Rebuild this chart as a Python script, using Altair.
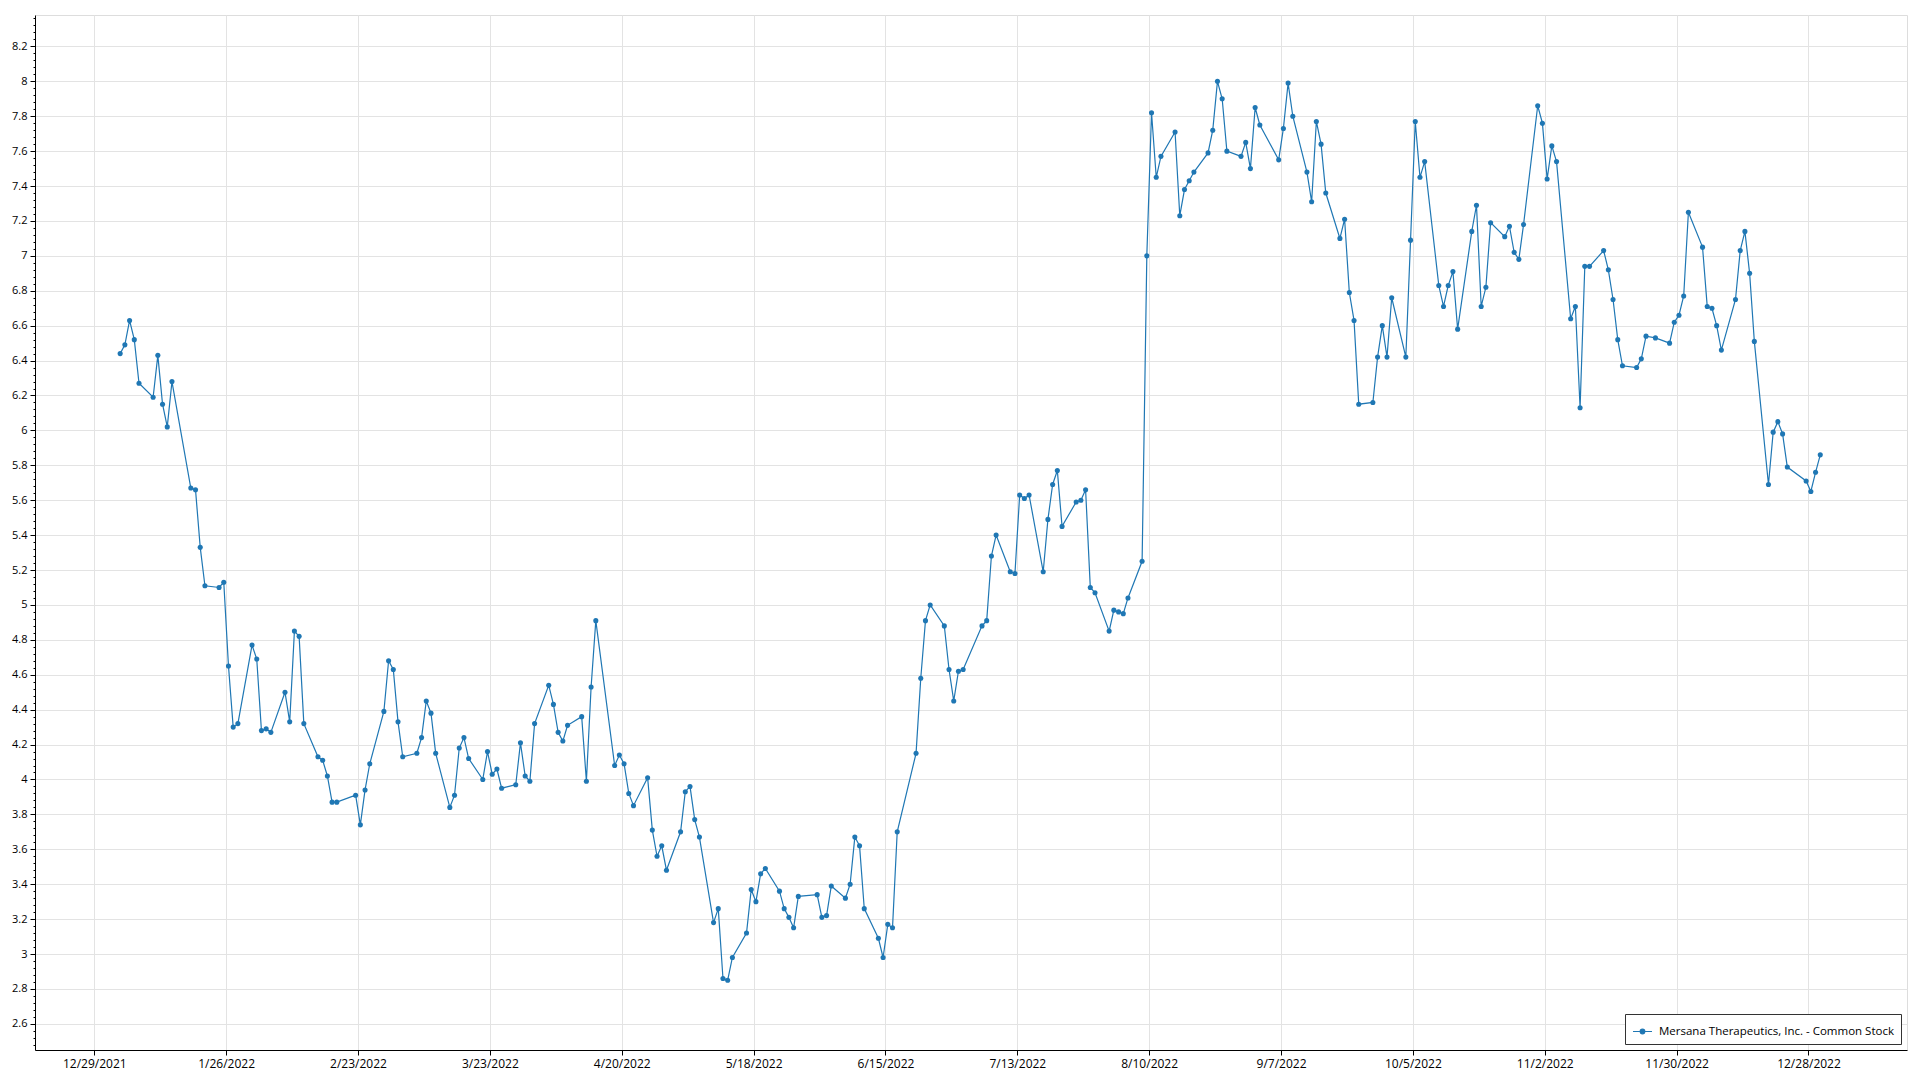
import altair as alt
import pandas as pd

series_name = "Mersana Therapeutics, Inc. - Common Stock"

dates = [
    "2022-01-03", "2022-01-04", "2022-01-05", "2022-01-06", "2022-01-07", "2022-01-10", "2022-01-11", "2022-01-12",
    "2022-01-13", "2022-01-14", "2022-01-18", "2022-01-19", "2022-01-20", "2022-01-21", "2022-01-24", "2022-01-25",
    "2022-01-26", "2022-01-27", "2022-01-28", "2022-01-31",
    "2022-02-01", "2022-02-02", "2022-02-03", "2022-02-04", "2022-02-07", "2022-02-08", "2022-02-09", "2022-02-10",
    "2022-02-11", "2022-02-14", "2022-02-15", "2022-02-16", "2022-02-17", "2022-02-18", "2022-02-22", "2022-02-23",
    "2022-02-24", "2022-02-25", "2022-02-28",
    "2022-03-01", "2022-03-02", "2022-03-03", "2022-03-04", "2022-03-07", "2022-03-08", "2022-03-09", "2022-03-10",
    "2022-03-11", "2022-03-14", "2022-03-15", "2022-03-16", "2022-03-17", "2022-03-18", "2022-03-21", "2022-03-22",
    "2022-03-23", "2022-03-24", "2022-03-25", "2022-03-28", "2022-03-29", "2022-03-30", "2022-03-31",
    "2022-04-01", "2022-04-04", "2022-04-05", "2022-04-06", "2022-04-07", "2022-04-08", "2022-04-11", "2022-04-12",
    "2022-04-13", "2022-04-14", "2022-04-18", "2022-04-19", "2022-04-20", "2022-04-21", "2022-04-22", "2022-04-25",
    "2022-04-26", "2022-04-27", "2022-04-28", "2022-04-29",
    "2022-05-02", "2022-05-03", "2022-05-04", "2022-05-05", "2022-05-06", "2022-05-09", "2022-05-10", "2022-05-11",
    "2022-05-12", "2022-05-13", "2022-05-16", "2022-05-17", "2022-05-18", "2022-05-19", "2022-05-20", "2022-05-23",
    "2022-05-24", "2022-05-25", "2022-05-26", "2022-05-27", "2022-05-31",
    "2022-06-01", "2022-06-02", "2022-06-03", "2022-06-06", "2022-06-07", "2022-06-08", "2022-06-09", "2022-06-10",
    "2022-06-13", "2022-06-14", "2022-06-15", "2022-06-16", "2022-06-17", "2022-06-21", "2022-06-22", "2022-06-23",
    "2022-06-24", "2022-06-27", "2022-06-28", "2022-06-29", "2022-06-30",
    "2022-07-01", "2022-07-05", "2022-07-06", "2022-07-07", "2022-07-08", "2022-07-11", "2022-07-12", "2022-07-13",
    "2022-07-14", "2022-07-15", "2022-07-18", "2022-07-19", "2022-07-20", "2022-07-21", "2022-07-22", "2022-07-25",
    "2022-07-26", "2022-07-27", "2022-07-28", "2022-07-29",
    "2022-08-01", "2022-08-02", "2022-08-03", "2022-08-04", "2022-08-05", "2022-08-08", "2022-08-09", "2022-08-10",
    "2022-08-11", "2022-08-12", "2022-08-15", "2022-08-16", "2022-08-17", "2022-08-18", "2022-08-19", "2022-08-22",
    "2022-08-23", "2022-08-24", "2022-08-25", "2022-08-26", "2022-08-29", "2022-08-30", "2022-08-31",
    "2022-09-01", "2022-09-02", "2022-09-06", "2022-09-07", "2022-09-08", "2022-09-09", "2022-09-12", "2022-09-13",
    "2022-09-14", "2022-09-15", "2022-09-16", "2022-09-19", "2022-09-20", "2022-09-21", "2022-09-22", "2022-09-23",
    "2022-09-26", "2022-09-27", "2022-09-28", "2022-09-29", "2022-09-30",
    "2022-10-03", "2022-10-04", "2022-10-05", "2022-10-06", "2022-10-07", "2022-10-10", "2022-10-11", "2022-10-12",
    "2022-10-13", "2022-10-14", "2022-10-17", "2022-10-18", "2022-10-19", "2022-10-20", "2022-10-21", "2022-10-24",
    "2022-10-25", "2022-10-26", "2022-10-27", "2022-10-28", "2022-10-31",
    "2022-11-01", "2022-11-02", "2022-11-03", "2022-11-04", "2022-11-07", "2022-11-08", "2022-11-09", "2022-11-10",
    "2022-11-11", "2022-11-14", "2022-11-15", "2022-11-16", "2022-11-17", "2022-11-18", "2022-11-21", "2022-11-22",
    "2022-11-23", "2022-11-25", "2022-11-28", "2022-11-29", "2022-11-30",
    "2022-12-01", "2022-12-02", "2022-12-05", "2022-12-06", "2022-12-07", "2022-12-08", "2022-12-09", "2022-12-12",
    "2022-12-13", "2022-12-14", "2022-12-15", "2022-12-16", "2022-12-19", "2022-12-20", "2022-12-21", "2022-12-22",
    "2022-12-23", "2022-12-27", "2022-12-28", "2022-12-29", "2022-12-30",
]

prices = [
    6.44, 6.49, 6.63, 6.52, 6.27, 6.19, 6.43, 6.15, 6.02, 6.28, 5.67, 5.66, 5.33, 5.11, 5.10, 5.13,
    4.65, 4.30, 4.32, 4.77,
    4.69, 4.28, 4.29, 4.27, 4.50, 4.33, 4.85, 4.82, 4.32, 4.13, 4.11, 4.02, 3.87, 3.87, 3.91, 3.74,
    3.94, 4.09, 4.39,
    4.68, 4.63, 4.33, 4.13, 4.15, 4.24, 4.45, 4.38, 4.15, 3.84, 3.91, 4.18, 4.24, 4.12, 4.00, 4.16,
    4.03, 4.06, 3.95, 3.97, 4.21, 4.02, 3.99,
    4.32, 4.54, 4.43, 4.27, 4.22, 4.31, 4.36, 3.99, 4.53, 4.91, 4.08, 4.14, 4.09, 3.92, 3.85, 4.01,
    3.71, 3.56, 3.62, 3.48,
    3.70, 3.93, 3.96, 3.77, 3.67, 3.18, 3.26, 2.86, 2.85, 2.98, 3.12, 3.37, 3.30, 3.46, 3.49, 3.36,
    3.26, 3.21, 3.15, 3.33, 3.34,
    3.21, 3.22, 3.39, 3.32, 3.40, 3.67, 3.62, 3.26, 3.09, 2.98, 3.17, 3.15, 3.70, 4.15, 4.58, 4.91,
    5.00, 4.88, 4.63, 4.45, 4.62,
    4.63, 4.88, 4.91, 5.28, 5.40, 5.19, 5.18, 5.63, 5.61, 5.63, 5.19, 5.49, 5.69, 5.77, 5.45, 5.59,
    5.60, 5.66, 5.10, 5.07,
    4.85, 4.97, 4.96, 4.95, 5.04, 5.25, 7.00, 7.82, 7.45, 7.57, 7.71, 7.23, 7.38, 7.43, 7.48, 7.59,
    7.72, 8.00, 7.90, 7.60, 7.57, 7.65, 7.50,
    7.85, 7.75, 7.55, 7.73, 7.99, 7.80, 7.48, 7.31, 7.77, 7.64, 7.36, 7.10, 7.21, 6.79, 6.63, 6.15,
    6.16, 6.42, 6.60, 6.42, 6.76,
    6.42, 7.09, 7.77, 7.45, 7.54, 6.83, 6.71, 6.83, 6.91, 6.58, 7.14, 7.29, 6.71, 6.82, 7.19, 7.11,
    7.17, 7.02, 6.98, 7.18, 7.86,
    7.76, 7.44, 7.63, 7.54, 6.64, 6.71, 6.13, 6.94, 6.94, 7.03, 6.92, 6.75, 6.52, 6.37, 6.36, 6.41,
    6.54, 6.53, 6.50, 6.62, 6.66,
    6.77, 7.25, 7.05, 6.71, 6.70, 6.60, 6.46, 6.75, 7.03, 7.14, 6.90, 6.51, 5.69, 5.99, 6.05, 5.98,
    5.79, 5.71, 5.65, 5.76, 5.86,
]

x_tick_dates = [
    "2021-12-29", "2022-01-26", "2022-02-23", "2022-03-23", "2022-04-20", "2022-05-18", "2022-06-15",
    "2022-07-13", "2022-08-10", "2022-09-07", "2022-10-05", "2022-11-02", "2022-11-30", "2022-12-28",
]
y_tick_values = [round(2.6 + 0.2 * i, 1) for i in range(29)]
y_minor_values = [round(2.48 + 0.04 * i, 2) for i in range(148)]


def ms(s):
    return int(pd.Timestamp(s, tz="UTC").value // 10**6)


x_domain = [ms("2021-12-16T10:00"), ms("2023-01-17T22:00")]
y_domain = [2.45, 8.38]

df = pd.DataFrame({"date": dates, "price": prices, "series": series_name})
minor_df = pd.DataFrame({"v": y_minor_values})

FONT = "Open Sans"
BLUE = "#1f77b4"
GRID = "#e3e3e3"

legend_symbol = "M-1,0L1,0M-0.24,0A0.24,0.24,0,1,0,0.24,0A0.24,0.24,0,1,0,-0.24,0Z"

x_scale = alt.Scale(type="utc", domain=x_domain, nice=False)

main = (
    alt.Chart(df)
    .transform_calculate(t="toDate(datum.date) + 43200000")
    .mark_line(strokeWidth=1.2, point=alt.OverlayMarkDef(filled=True, size=26))
    .encode(
        x=alt.X(
            "t:T",
            scale=x_scale,
            axis=alt.Axis(
                values=[ms(t) for t in x_tick_dates],
                labelExpr="utcFormat(datum.value, '%-m/%-d/%Y')",
                title=None,
                grid=True,
                gridColor=GRID,
                tickSize=5,
                tickColor="black",
                domainColor="black",
                labelPadding=3,
                labelFont=FONT,
                labelFontSize=12,
                labelColor="black",
                labelFlush=False,
            ),
        ),
        y=alt.Y(
            "price:Q",
            scale=alt.Scale(domain=y_domain, nice=False, zero=False),
            axis=alt.Axis(
                values=y_tick_values,
                format=".1~f",
                title=None,
                orient="left",
                grid=True,
                gridColor=GRID,
                tickSize=5,
                tickColor="black",
                domainColor="black",
                labelPadding=3,
                labelFont=FONT,
                labelFontSize=11,
                labelColor="black",
                labelFlush=False,
                minExtent=27,
                maxExtent=27,
            ),
        ),
        color=alt.Color(
            "series:N",
            scale=alt.Scale(range=[BLUE]),
            legend=alt.Legend(
                title=None,
                orient="bottom-right",
                offset=6,
                padding=7,
                strokeColor="#333333",
                fillColor="white",
                labelFont=FONT,
                labelFontSize=11.5,
                labelColor="black",
                labelLimit=0,
                symbolType=legend_symbol,
                symbolSize=360,
                symbolStrokeWidth=1.2,
                symbolFillColor=BLUE,
                symbolStrokeColor=BLUE,
                labelOffset=6,
            ),
        ),
    )
)

minor = (
    alt.Chart(minor_df)
    .mark_point(opacity=0)
    .encode(
        y=alt.Y(
            "v:Q",
            scale=alt.Scale(domain=y_domain, nice=False, zero=False),
            axis=alt.Axis(
                values=y_minor_values,
                orient="left",
                labels=False,
                grid=False,
                domain=False,
                ticks=True,
                tickSize=2,
                tickColor="black",
                title=None,
                minExtent=0,
                maxExtent=0,
            ),
        ),
    )
)

chart = (
    alt.layer(main, minor)
    .resolve_scale(y="independent")
    .properties(
        width=1872,
        height=1035,
        padding={"left": 0, "top": 7, "right": 5, "bottom": 5},
    )
    .configure_view(stroke="black", strokeWidth=1)
    .configure(background="white")
)

chart.save("out.html", embed_options={"renderer": "svg", "actions": False})
